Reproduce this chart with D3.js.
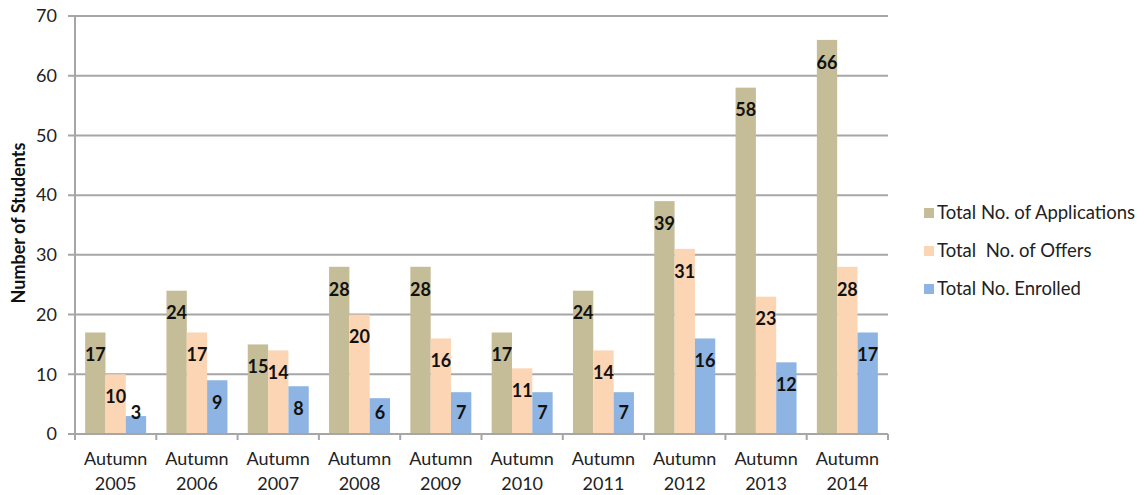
<!DOCTYPE html>
<html>
<head>
<meta charset="utf-8">
<script src="https://cdn.jsdelivr.net/npm/d3@7"></script>
<style>
  html, body { margin: 0; padding: 0; background: #fff; }
  svg { display: block; font-family: Lato, "Open Sans", sans-serif; }
</style>
</head>
<body>
<svg id="chart" width="1145" height="495"></svg>
<script>
// Intake figures per autumn semester
const terms = ["2005", "2006", "2007", "2008", "2009", "2010", "2011", "2012", "2013", "2014"];
const termPrefix = "Autumn";
const applications = [17, 24, 15, 28, 28, 17, 24, 39, 58, 66];
const offers = [10, 17, 14, 20, 16, 11, 14, 31, 23, 28];
const enrolled = [3, 9, 8, 6, 7, 7, 7, 16, 12, 17];
const seriesNames = ["Total No. of Applications", "Total  No. of Offers", "Total No. Enrolled"];
const seriesColors = ["#c4bd97", "#fcd5b5", "#8db4e2"];
const yTicks = [0, 10, 20, 30, 40, 50, 60, 70];
const yTitle = "Number of Students";

const series = [applications, offers, enrolled];

const svg = d3.select("#chart");
const plot = { left: 75, right: 888, top: 16, bottom: 434 };

const x = d3.scaleBand().domain(terms).range([plot.left, plot.right]).paddingInner(0).paddingOuter(0);
const xInner = d3.scaleBand().domain(d3.range(series.length))
  .range([0, x.bandwidth()]).paddingInner(0).paddingOuter(0.5);
const y = d3.scaleLinear().domain([0, 70]).range([plot.bottom, plot.top]);

const gridColor = "#a6a6a6";

// Horizontal gridlines (they also act as the left tick marks)
svg.append("g")
  .selectAll("line")
  .data(yTicks)
  .join("line")
  .attr("x1", plot.left - 7)
  .attr("x2", plot.right)
  .attr("y1", d => y(d))
  .attr("y2", d => y(d))
  .attr("stroke", gridColor)
  .attr("stroke-width", 2);

// Y axis line
svg.append("line")
  .attr("x1", plot.left).attr("x2", plot.left)
  .attr("y1", plot.top).attr("y2", plot.bottom)
  .attr("stroke", gridColor).attr("stroke-width", 2);

// Y tick labels
svg.append("g")
  .selectAll("text")
  .data(yTicks)
  .join("text")
  .attr("x", plot.left - 18)
  .attr("y", d => y(d))
  .attr("dy", "0.35em")
  .attr("text-anchor", "end")
  .attr("font-size", 18)
  .attr("fill", "#222")
  .text(d => d);

// Y axis title
svg.append("text")
  .attr("transform", "translate(25, 223) rotate(-90)")
  .attr("text-anchor", "middle")
  .attr("font-size", 18)
  .attr("font-weight", "bold")
  .attr("fill", "#111")
  .text(yTitle);

// Bars
const groups = svg.append("g")
  .selectAll("g")
  .data(terms)
  .join("g")
  .attr("transform", d => `translate(${x(d)},0)`);

groups.selectAll("rect")
  .data((d, i) => series.map((s, k) => ({ k, v: s[i] })))
  .join("rect")
  .attr("x", d => xInner(d.k))
  .attr("width", xInner.bandwidth())
  .attr("y", d => y(d.v))
  .attr("height", d => y(0) - y(d.v))
  .attr("fill", d => seriesColors[d.k]);

// Value labels, placed inside near the bar top
groups.selectAll("text")
  .data((d, i) => series.map((s, k) => ({ k, v: s[i] })))
  .join("text")
  .attr("x", d => xInner(d.k) + xInner.bandwidth() / 2)
  .attr("y", d => Math.min(y(d.v) + 22.5, plot.bottom - 21))
  .attr("dy", "0.35em")
  .attr("text-anchor", "middle")
  .attr("font-size", 18)
  .attr("font-weight", "bold")
  .attr("fill", "#111")
  .text(d => d.v);

// X axis line and category separators
svg.append("line")
  .attr("x1", plot.left - 7).attr("x2", plot.right)
  .attr("y1", plot.bottom).attr("y2", plot.bottom)
  .attr("stroke", gridColor).attr("stroke-width", 2);

svg.append("g")
  .selectAll("line")
  .data(d3.range(terms.length + 1))
  .join("line")
  .attr("x1", i => plot.left + i * x.step())
  .attr("x2", i => plot.left + i * x.step())
  .attr("y1", plot.bottom)
  .attr("y2", plot.bottom + 6)
  .attr("stroke", gridColor).attr("stroke-width", 2);

// Category labels (two lines)
const xl = svg.append("g")
  .selectAll("text")
  .data(terms)
  .join("text")
  .attr("text-anchor", "middle")
  .attr("font-size", 18)
  .attr("fill", "#222");
xl.append("tspan")
  .attr("x", d => x(d) + x.bandwidth() / 2)
  .attr("y", 465)
  .text(termPrefix);
xl.append("tspan")
  .attr("x", d => x(d) + x.bandwidth() / 2)
  .attr("y", 490)
  .text(d => d);

// Legend
const legend = svg.append("g")
  .selectAll("g")
  .data(seriesNames)
  .join("g")
  .attr("transform", (d, i) => `translate(924, ${213 + i * 38})`);
legend.append("rect")
  .attr("x", 0).attr("y", -5)
  .attr("width", 10).attr("height", 10)
  .attr("fill", (d, i) => seriesColors[i]);
legend.append("text")
  .attr("x", 13)
  .attr("y", 0)
  .attr("dy", "0.35em")
  .attr("font-size", 18.5)
  .attr("fill", "#222")
  .style("white-space", "pre")
  .text(d => d);
</script>
</body>
</html>
